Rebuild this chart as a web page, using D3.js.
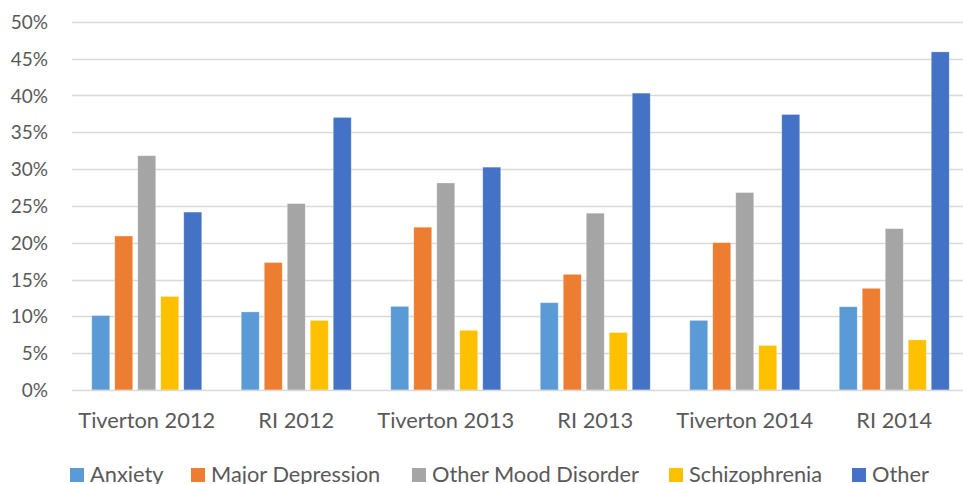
<!DOCTYPE html>
<html>
<head>
<meta charset="utf-8">
<script src="https://cdn.jsdelivr.net/npm/d3@7"></script>
<style>
  html, body { margin: 0; padding: 0; background: #fff; overflow: hidden; }
  svg { display: block; }
  text { font-family: Lato, "Open Sans", sans-serif; fill: #595959; }
</style>
</head>
<body>
<svg id="chart" width="963" height="484"></svg>
<script>
const categories = ["Tiverton 2012", "RI 2012", "Tiverton 2013", "RI 2013", "Tiverton 2014", "RI 2014"];
const seriesNames = ["Anxiety", "Major Depression", "Other Mood Disorder", "Schizophrenia", "Other"];
const anxiety        = [0.101, 0.106, 0.1135, 0.1185, 0.0945, 0.113];
const majorDepression= [0.209, 0.173, 0.221, 0.157, 0.200, 0.138];
const otherMood      = [0.318, 0.253, 0.281, 0.240, 0.268, 0.219];
const schizophrenia  = [0.127, 0.0945, 0.081, 0.078, 0.0605, 0.068];
const other          = [0.2415, 0.370, 0.3025, 0.403, 0.374, 0.459];
const yTicks = [0, 0.05, 0.10, 0.15, 0.20, 0.25, 0.30, 0.35, 0.40, 0.45, 0.50];
const colors = ["#5B9BD5", "#ED7D31", "#A5A5A5", "#FFC000", "#4472C4"];
const titleText = "Treatment Admissions";

const seriesValues = [anxiety, majorDepression, otherMood, schizophrenia, other];

const svg = d3.select("#chart");

const x0 = d3.scaleBand().domain(categories).range([72, 969]).paddingInner(0).paddingOuter(0);
const x1 = d3.scaleBand().domain(seriesNames).range([0, x0.bandwidth()]).paddingInner(0.22).paddingOuter(0.86);
const y = d3.scaleLinear().domain([0, 0.5]).range([390, 21.7]);

// title (mostly cut off at top, as in the reference)
svg.append("text").attr("x", 517).attr("y", 0.3).attr("text-anchor", "middle")
  .style("font-size", "22px").text(titleText);

// y axis labels
const yAxis = d3.axisLeft(y).tickValues(yTicks).tickSize(0).tickPadding(0).tickFormat(d3.format(".0%"));
const gy = svg.append("g").attr("transform", "translate(48,0)").call(yAxis);
gy.select(".domain").remove();
gy.selectAll("text").style("font-size", "19px").attr("fill", "#595959").style("font-family", "Lato, 'Open Sans', sans-serif").attr("dy", "0.35em");

// gridlines
svg.append("g").selectAll("line").data(yTicks.filter(d => d > 0)).join("line")
  .attr("x1", 72).attr("x2", 969)
  .attr("y1", d => Math.round(y(d)) + 0.5).attr("y2", d => Math.round(y(d)) + 0.5)
  .attr("stroke", "#d9d9d9").attr("stroke-width", 1.5);

// bars
const groups = svg.append("g").selectAll("g").data(categories).join("g")
  .attr("transform", d => `translate(${x0(d)},0)`);
groups.selectAll("rect").data((c, ci) => seriesNames.map((s, si) => ({s, si, v: seriesValues[si][ci]}))).join("rect")
  .attr("x", d => x1(d.s))
  .attr("width", x1.bandwidth())
  .attr("y", d => y(d.v))
  .attr("height", d => y(0) - y(d.v))
  .attr("fill", d => colors[d.si])
  .attr("stroke", "#fff").attr("stroke-opacity", 0.35).attr("stroke-width", 0.75);

// x axis line
svg.append("line").attr("x1", 72).attr("x2", 969).attr("y1", 390.5).attr("y2", 390.5)
  .attr("stroke", "#d9d9d9").attr("stroke-width", 1.5);

// x axis labels
const xAxis = d3.axisBottom(x0).tickSize(0).tickPadding(0);
const gx = svg.append("g").attr("transform", "translate(0,428)").call(xAxis);
gx.select(".domain").remove();
gx.selectAll("text").attr("dy", 0).style("font-size", "21.8px").attr("fill", "#595959").style("font-family", "Lato, 'Open Sans', sans-serif");

// legend
const legendX = [70, 191, 412, 669, 852];
const leg = svg.append("g").selectAll("g").data(seriesNames).join("g")
  .attr("transform", (d, i) => `translate(${legendX[i]},468)`);
leg.append("rect").attr("width", 14).attr("height", 14).attr("fill", (d, i) => colors[i]);
leg.append("text").attr("x", 20).attr("y", 13.5).style("font-size", "21.8px").text(d => d);
</script>
</body>
</html>
